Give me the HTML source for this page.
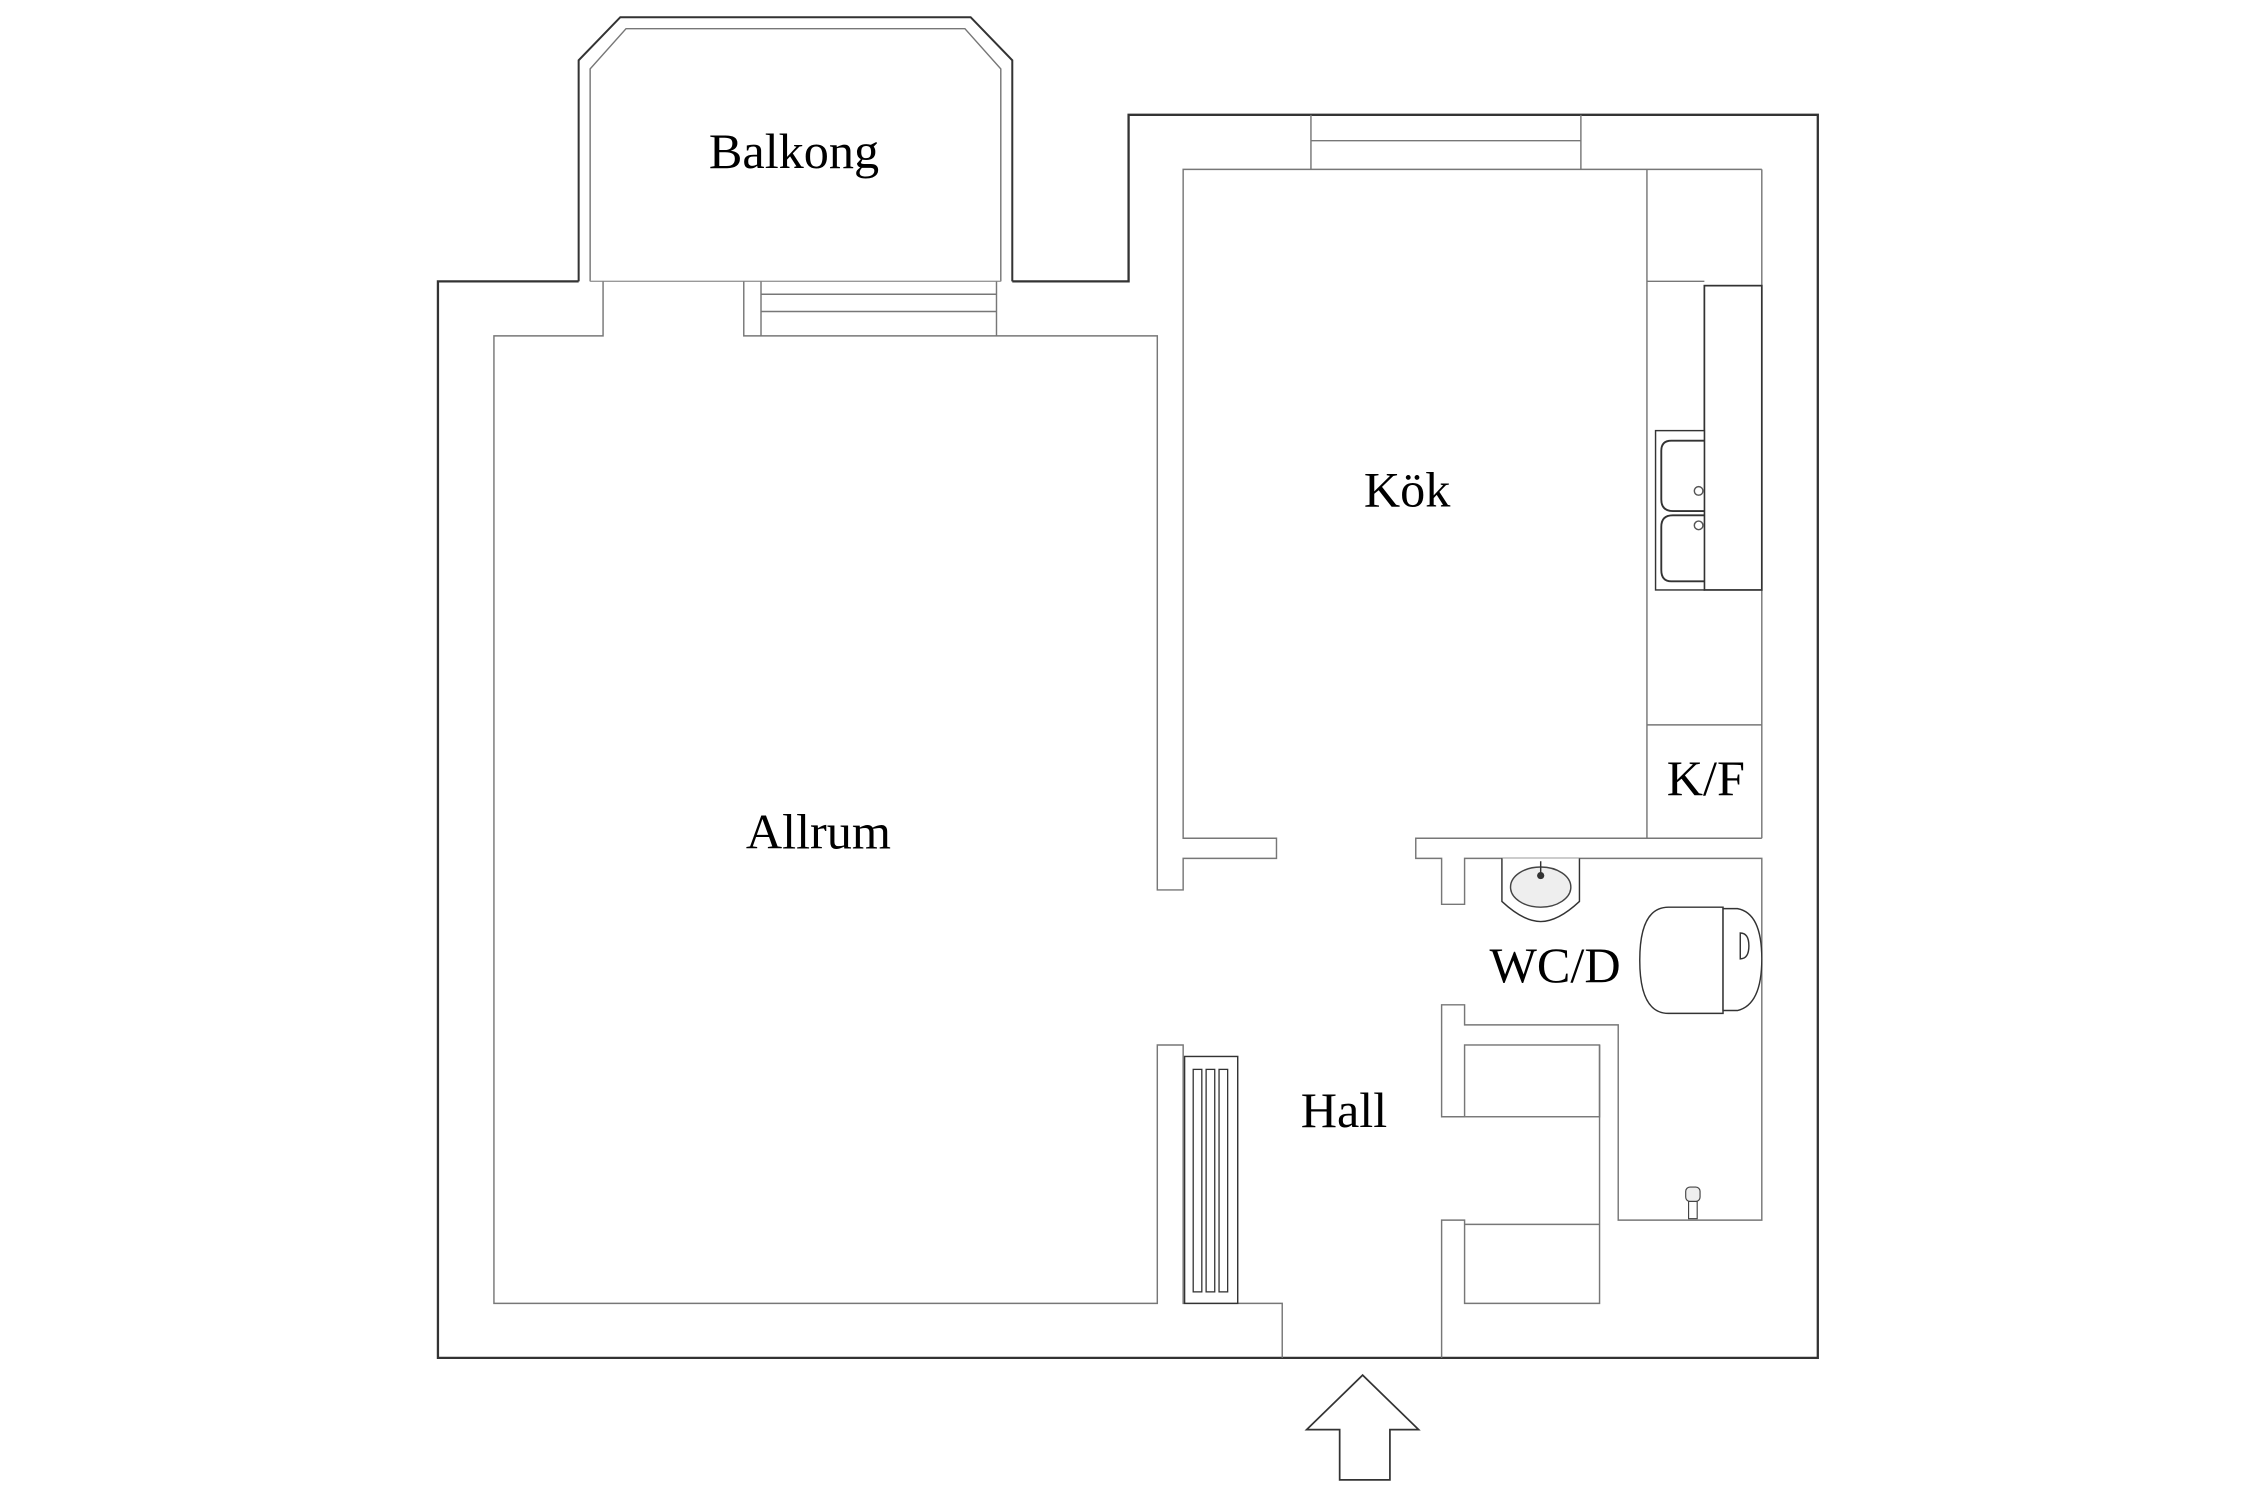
<!DOCTYPE html>
<html><head><meta charset="utf-8"><style>
html,body{margin:0;padding:0;background:#fff;}
svg{display:block;}
text{font-family:"Liberation Serif",serif;font-size:35px;fill:#000;text-anchor:middle;}
</style></head><body>
<svg width="2250" height="1500" viewBox="0 0 1567 1045" preserveAspectRatio="none" xmlns="http://www.w3.org/2000/svg">
<rect width="1567" height="1045" fill="#fff"/>
<polyline points="403,196 305,196 305,946 1266,946 1266,80 786,80 786,196 705,196" fill="none" stroke="#333" stroke-width="1.6"/>
<polyline points="403,196 403,42 432,12 676,12 705,42 705,196" fill="none" stroke="#333" stroke-width="1.4"/>
<polyline points="411,196 411,48 436,20 672,20 697,48 697,196" fill="none" stroke="#777" stroke-width="1"/>
<line x1="411" y1="196" x2="697" y2="196" stroke="#999" stroke-width="1"/>
<g fill="none" stroke="#777" stroke-width="1">
<polyline points="420,196 420,234 344,234 344,908 806,908 806,728 824,728 824,908 862,908 893,908 893,946"/>
<polyline points="518,196 518,234 806,234 806,620 824,620 824,598 889,598 889,584 824,584 824,118 1227,118"/>
<line x1="530" y1="196" x2="530" y2="234"/>
<line x1="694" y1="196" x2="694" y2="234"/>
<line x1="530" y1="205" x2="694" y2="205"/>
<line x1="530" y1="217" x2="694" y2="217"/>
<line x1="913" y1="80" x2="913" y2="118"/>
<line x1="1101" y1="80" x2="1101" y2="118"/>
<line x1="913" y1="98" x2="1101" y2="98"/>
<line x1="1147" y1="118" x2="1147" y2="584"/>
<line x1="1227" y1="118" x2="1227" y2="584"/>
<line x1="1147" y1="196" x2="1187" y2="196"/>
<line x1="1147" y1="505" x2="1227" y2="505"/>
<polyline points="1227,584 986,584 986,598 1004,598 1004,630 1020,630 1020,598 1227,598 1227,850 1127,850 1127,714 1020,714 1020,700 1004,700 1004,778 1020,778"/>
<rect x="1020" y="728" width="94" height="50"/>
<polyline points="1114,728 1114,908 1020,908 1020,850 1004,850 1004,946"/>
<line x1="1020" y1="853" x2="1114" y2="853"/>
</g>
<rect x="1187" y="199" width="40" height="212" fill="#fff" stroke="#333" stroke-width="1.2"/>
<rect x="1153" y="300" width="34" height="111" fill="#fff" stroke="#333" stroke-width="1"/>
<path d="M1187,307 h-23 q-7,0 -7,7 v34 q0,8 8,8 h22 M1187,359 h-22 q-8,0 -8,8 v30 q0,8 7,8 h23" fill="none" stroke="#333" stroke-width="1.3"/>
<circle cx="1183" cy="342" r="3" fill="none" stroke="#555"/>
<circle cx="1183" cy="366" r="3" fill="none" stroke="#555"/>
<rect x="825" y="736" width="37" height="172" fill="#fff" stroke="#333" stroke-width="1"/>
<rect x="831" y="745" width="6" height="155" fill="none" stroke="#333" stroke-width="0.9"/>
<rect x="840" y="745" width="6" height="155" fill="none" stroke="#333" stroke-width="0.9"/>
<rect x="849" y="745" width="6" height="155" fill="none" stroke="#333" stroke-width="0.9"/>
<path d="M1046,598 v30 q15,14 27,14 q12,0 27,-14 v-30" fill="#fff" stroke="#333" stroke-width="1"/>
<ellipse cx="1073" cy="618" rx="21" ry="14" fill="#eee" stroke="#444" stroke-width="1"/>
<circle cx="1073" cy="610" r="2.5" fill="#333"/>
<line x1="1073" y1="600" x2="1073" y2="610" stroke="#333"/>
<path d="M1200,632 h-38 q-20,0 -20,37 q0,37 20,37 h38 z" fill="#fff" stroke="#333" stroke-width="1"/>
<path d="M1200,633 h10 q17,3 17,35 q0,32 -17,36 h-10 z" fill="#fff" stroke="#333" stroke-width="1"/>
<path d="M1212,650 q6,0 6,9 q0,9 -6,9 z" fill="none" stroke="#333"/>
<rect x="1174" y="827" width="10" height="10" rx="3" fill="#eee" stroke="#444" stroke-width="0.8"/>
<rect x="1176" y="837" width="6" height="12" fill="#fff" stroke="#444" stroke-width="0.8"/>
<polygon points="949,958 988,996 968,996 968,1031 933,1031 933,996 910,996" fill="#fff" stroke="#333" stroke-width="1.2"/>
<text x="553" y="117">Balkong</text>
<text x="980" y="353">Kök</text>
<text x="570" y="591">Allrum</text>
<text x="1188" y="554">K/F</text>
<text x="1083" y="684">WC/D</text>
<text x="936" y="785">Hall</text>
</svg>
</body></html>
